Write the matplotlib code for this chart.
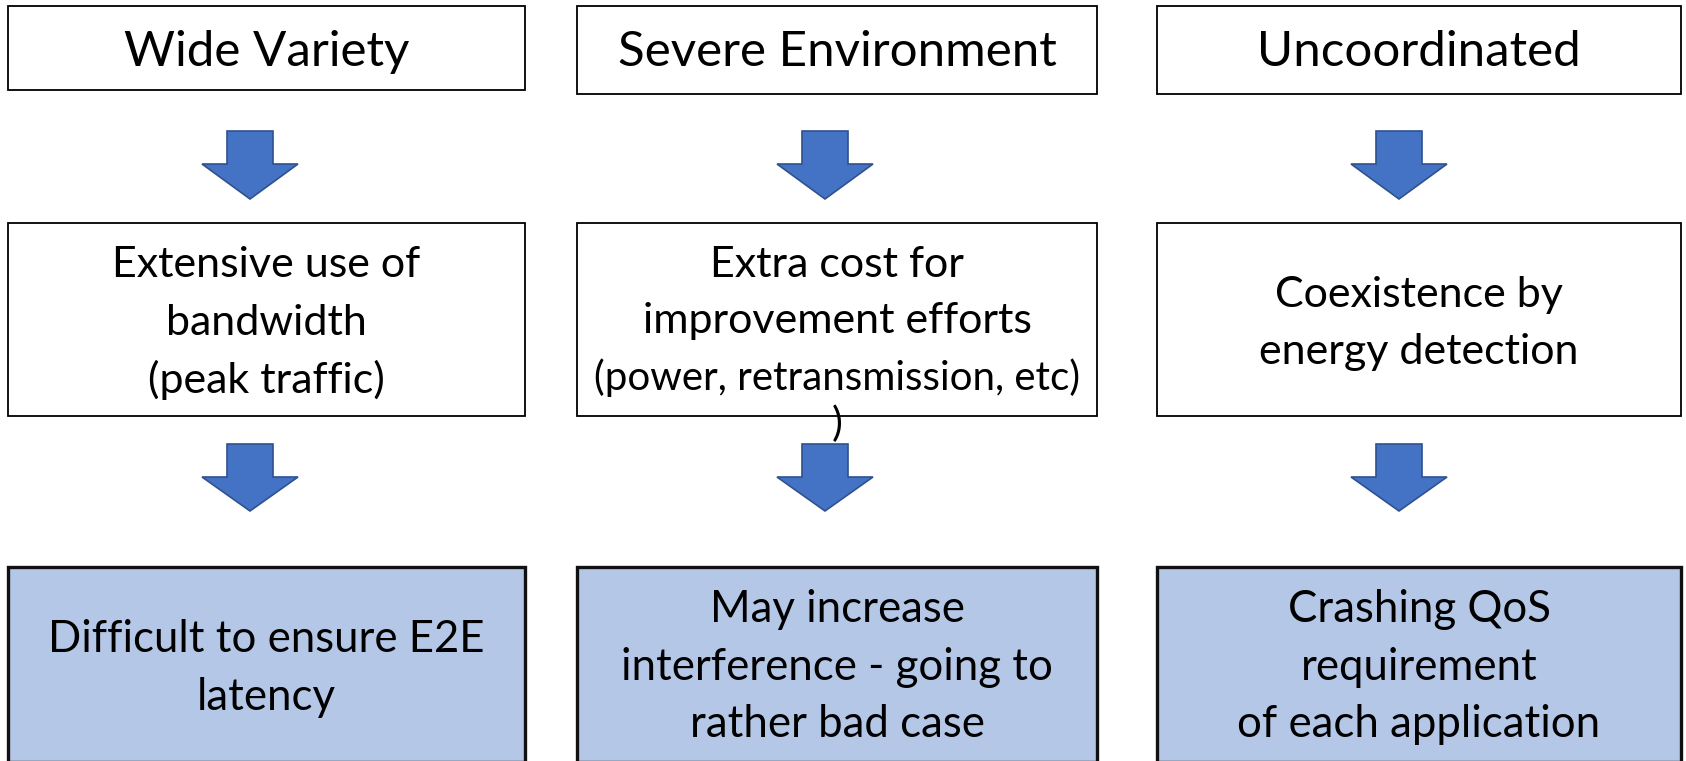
import matplotlib.pyplot as plt
from matplotlib.patches import Polygon, Rectangle

plt.rcParams["font.family"] = ["Lato", "DejaVu Sans"]

# column texts, one list per row
causes = ["Wide Variety", "Severe Environment", "Uncoordinated"]
effects = [
    ["Extensive use of", "bandwidth", "(peak traffic)"],
    ["Extra cost for", "improvement efforts", "(power, retransmission, etc)"],
    ["Coexistence by", "energy detection"],
]
results = [
    ["Difficult to ensure E2E", "latency"],
    ["May increase", "interference - going to", "rather bad case"],
    ["Crashing QoS", "requirement", "of each application"],
]

# layout in pixel units of the 1686x761 canvas (y downwards)
W, H = 1686, 761
col_left = [8, 577, 1157]
col_right = [525, 1097, 1681]
top_y = [(6, 90), (6, 94), (6, 94)]
mid_y = (223, 416)
bot_y = (567, 762)
arrow_cx = [250, 825, 1399]
arrow_rows = [(131, 164, 199), (444, 477, 511)]

top_base = [66, 66, 66]
mid_base = [[277, 335, 393], [277, 333, 390], [307, 364]]
bot_base = [[652, 710], [622, 680, 737], [622, 680, 737]]

fig = plt.figure(figsize=(W / 100, H / 100), dpi=100)
ax = fig.add_axes([0, 0, 1, 1])
ax.set_xlim(0, W)
ax.set_ylim(H, 0)
ax.axis("off")

def box(x0, x1, y0, y1, face, edge, lw):
    ax.add_patch(Rectangle((x0, y0), x1 - x0, y1 - y0, facecolor=face,
                           edgecolor=edge, linewidth=lw, zorder=1))

def down_arrow(cx, top, wing, tip):
    sw, hw = 23, 48
    pts = [(cx - sw, top), (cx + sw, top), (cx + sw, wing), (cx + hw, wing),
           (cx, tip), (cx - hw, wing), (cx - sw, wing)]
    ax.add_patch(Polygon(pts, closed=True, facecolor="#4472C4",
                         edgecolor="#2F528F", linewidth=1.2, zorder=2))

for i in range(3):
    x0, x1 = col_left[i], col_right[i]
    cx = (x0 + x1) / 2
    box(x0, x1, *top_y[i], "white", "black", 1.3)
    ax.text(cx, top_base[i], causes[i], ha="center", va="baseline", fontsize=35.5)

    box(x0, x1, *mid_y, "white", "black", 1.3)
    for line, yb in zip(effects[i], mid_base[i]):
        # the bracketed note is set a little smaller
        size = 29 if line.startswith("(power") else 31
        ax.text(cx, yb, line, ha="center", va="baseline", fontsize=size)

    box(x0, x1, *bot_y, "#B4C7E7", "#111111", 2.4)
    for line, yb in zip(results[i], bot_base[i]):
        ax.text(cx, yb, line, ha="center", va="baseline", fontsize=31.5)

    for top, wing, tip in arrow_rows:
        down_arrow(arrow_cx[i], top, wing, tip)

# wrapped leftover of the long line in the middle box
ax.text(837, 436, ")", ha="center", va="baseline", fontsize=29)

fig.savefig("out.png", dpi=100)
